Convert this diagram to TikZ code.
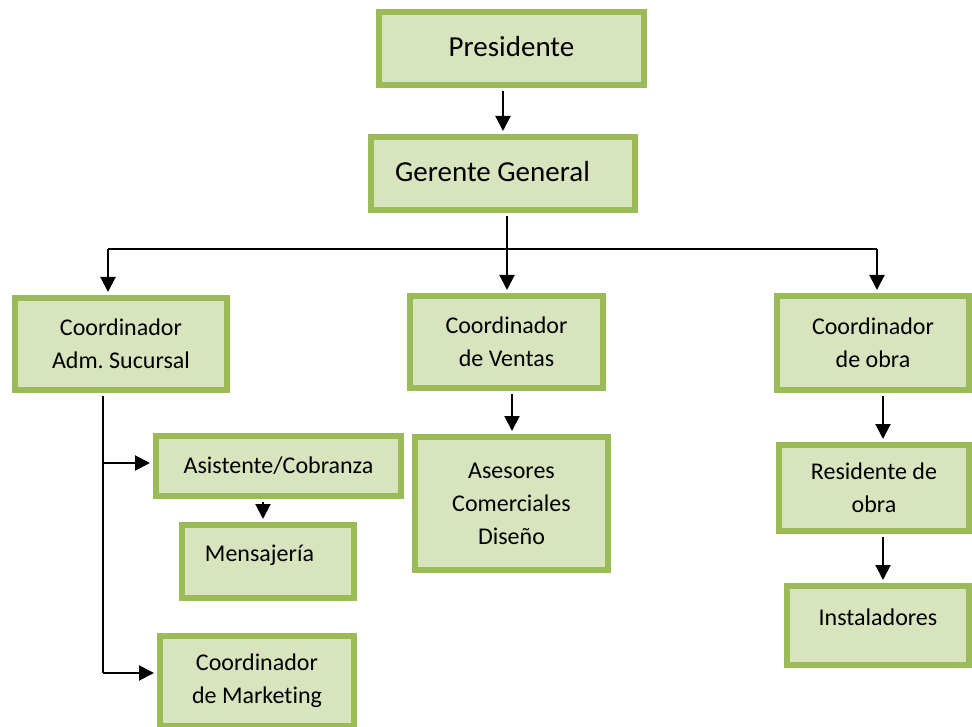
\documentclass[tikz,border=0pt]{standalone}
\usepackage{fontspec}
\setmainfont[Ligatures=NoCommon]{Carlito}
\usetikzlibrary{arrows.meta}
\definecolor{boxfill}{HTML}{D7E4BD}
\definecolor{boxline}{HTML}{9BBB59}
\tikzset{
  orgbox/.style={draw=boxline, fill=boxfill, line width=6pt, inner sep=0pt, align=center,
    font=\fontsize{24}{33}\selectfont},
  bigbox/.style={orgbox, font=\fontsize{29}{35}\selectfont},
  conn/.style={line width=2pt, black},
  arr/.style={conn, -{Triangle[width=15pt,length=15pt]}, shorten >=3pt},
}
\frenchspacing
\begin{document}
\begin{tikzpicture}[x=1pt,y=-1pt]
\useasboundingbox (0,0) rectangle (972,727);
% boxes
\node[bigbox, minimum width=265pt, minimum height=73pt] (P) at (511.5,48.5) {\raisebox{4pt}{Presidente}};
\node[bigbox, minimum width=264pt, minimum height=73pt] (G) at (503,173.5) {\hspace*{-21pt}\raisebox{5pt}{Gerente General}};
\node[orgbox, minimum width=212pt, minimum height=92pt] (A) at (121,344) {Coordinador\\Adm. Sucursal};
\node[orgbox, minimum width=193pt, minimum height=92pt] (V) at (506.5,342) {Coordinador\\de Ventas};
\node[orgbox, minimum width=192pt, minimum height=94pt] (O) at (873,343) {Coordinador\\de obra};
\node[orgbox, minimum width=245pt, minimum height=60pt] (S) at (278.5,466) {Asistente/Cobranza};
\node[orgbox, minimum width=172pt, minimum height=73pt] (M) at (268,561.5) {\hspace*{-17pt}Mensajería\\[-16pt]\mbox{}};
\node[orgbox, minimum width=194pt, minimum height=90pt] (K) at (257,681) {Coordinador\\de Marketing};
\node[orgbox, minimum width=193pt, minimum height=133pt] (C) at (511.5,503.5) {Asesores\\Comerciales\\Diseño};
\node[orgbox, minimum width=190pt, minimum height=86pt] (R) at (874,488) {Residente de\\obra};
\node[orgbox, minimum width=182pt, minimum height=79pt] (I) at (878,625.5) {Instaladores\\[-16pt]\mbox{}};
% connectors
\coordinate (pg) at (503,0);
\draw[arr] (pg |- P.south) ++(0,3) -- (pg |- G.north);
\coordinate (gv) at (507,0);
\coordinate (busL) at (108,249);
\coordinate (busR) at (877,249);
\draw[conn] (busL) -- (busR);
\draw[arr] (gv |- G.south) ++(0,3) -- (gv |- V.north);
\draw[arr] (busL) -- (busL |- A.north);
\draw[arr] (busR) -- (busR |- O.north);
\coordinate (va) at (512,0);
\draw[arr] (va |- V.south) ++(0,3) -- (va |- C.north);
\coordinate (trunk) at (103,0);
\coordinate (tb1) at (103,463);
\coordinate (tb2) at (103,673);
\draw[conn] (trunk |- A.south) ++(0,3) -- (tb2);
\draw[arr] (tb1) -- (tb1 -| S.west);
\draw[arr] (tb2) -- (tb2 -| K.west);
\coordinate (sm) at (263,0);
\draw[arr] (sm |- S.south) ++(0,3) -- (sm |- M.north);
\coordinate (ro) at (883,0);
\draw[arr] (ro |- O.south) ++(0,3) -- (ro |- R.north);
\draw[arr] (ro |- R.south) ++(0,3) -- (ro |- I.north);
\end{tikzpicture}
\end{document}
